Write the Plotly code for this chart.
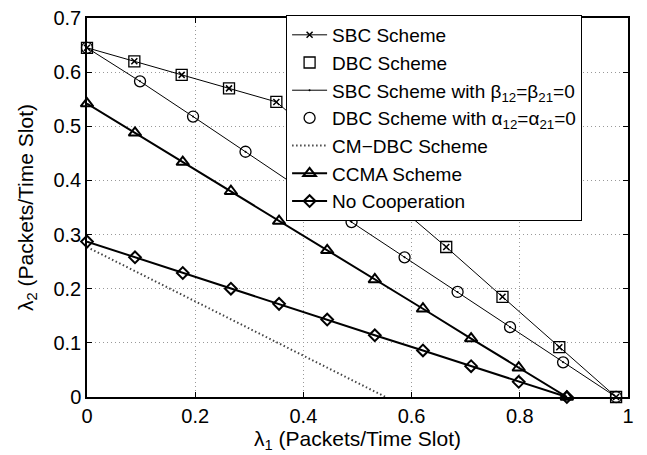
import plotly.graph_objects as go

# ---- data ----
x_sbc = [0, 0.0875, 0.175, 0.2625, 0.35, 0.455, 0.559, 0.664, 0.768, 0.873, 0.978]
y_sbc = [0.645, 0.620, 0.595, 0.570, 0.545, 0.455, 0.366, 0.277, 0.185, 0.092, 0.0]

x_zero = [0, 0.098, 0.196, 0.293, 0.391, 0.489, 0.587, 0.685, 0.782, 0.880, 0.978]
y_zero = [0.645, 0.583, 0.518, 0.453, 0.387, 0.323, 0.258, 0.194, 0.129, 0.064, 0.0]

x_cm = [0, 0.552]
y_cm = [0.277, 0.0]

x_coop = [0, 0.0887, 0.177, 0.266, 0.355, 0.444, 0.532, 0.621, 0.710, 0.798, 0.887]
y_ccma = [0.542, 0.488, 0.434, 0.380, 0.325, 0.271, 0.217, 0.163, 0.108, 0.054, 0.0]
y_nocoop = [0.287, 0.258, 0.229, 0.200, 0.172, 0.143, 0.114, 0.086, 0.057, 0.028, 0.0]

x_ticks = [0, 0.2, 0.4, 0.6, 0.8, 1]
x_labels = ["0", "0.2", "0.4", "0.6", "0.8", "1"]
y_ticks = [0, 0.1, 0.2, 0.3, 0.4, 0.5, 0.6, 0.7]
y_labels = ["0", "0.1", "0.2", "0.3", "0.4", "0.5", "0.6", "0.7"]

names = [
    "SBC Scheme",
    "DBC Scheme",
    "SBC Scheme with β<sub>12</sub>=β<sub>21</sub>=0",
    "DBC Scheme with α<sub>12</sub>=α<sub>21</sub>=0",
    "CM−DBC Scheme",
    "CCMA Scheme",
    "No Cooperation",
]

FONT = "Liberation Sans, Arial, sans-serif"
fig = go.Figure()

fig.add_trace(go.Scatter(x=x_sbc, y=y_sbc, name=names[0], mode="lines+markers",
                         line=dict(color="black", width=1),
                         marker=dict(symbol="x-thin", size=6, line=dict(color="black", width=1.5)),
                         cliponaxis=False))
fig.add_trace(go.Scatter(x=x_sbc, y=y_sbc, name=names[1], mode="markers",
                         marker=dict(symbol="square-open", size=11, color="black", line=dict(width=1.3)),
                         cliponaxis=False))
fig.add_trace(go.Scatter(x=x_zero, y=y_zero, name=names[2], mode="lines+markers",
                         line=dict(color="black", width=1),
                         marker=dict(symbol="circle", size=2, color="black"),
                         cliponaxis=False))
fig.add_trace(go.Scatter(x=x_zero, y=y_zero, name=names[3], mode="markers",
                         marker=dict(symbol="circle-open", size=11, color="black", line=dict(width=1.3)),
                         cliponaxis=False))
fig.add_trace(go.Scatter(x=x_cm, y=y_cm, name=names[4], mode="lines",
                         line=dict(color="#444", width=2, dash="1.5px,2.5px"),
                         cliponaxis=False))
fig.add_trace(go.Scatter(x=x_coop, y=y_ccma, name=names[5], mode="lines+markers",
                         line=dict(color="black", width=2),
                         marker=dict(symbol="triangle-up-open", size=11, color="black", line=dict(width=2)),
                         cliponaxis=False))
fig.add_trace(go.Scatter(x=x_coop, y=y_nocoop, name=names[6], mode="lines+markers",
                         line=dict(color="black", width=2),
                         marker=dict(symbol="diamond-open", size=9, color="black", line=dict(width=2)),
                         cliponaxis=False))

axis_common = dict(
    showline=True, linecolor="black", linewidth=1.5, mirror="ticks",
    ticks="inside", ticklen=5, tickcolor="black", tickwidth=1,
    showgrid=True, gridcolor="#999", griddash="1px,3px", gridwidth=1,
    zeroline=False, automargin=False, ticklabeloverflow="allow",
    tickfont=dict(family=FONT, size=20, color="black"),
)

fig.update_xaxes(range=[0, 1], tickvals=x_ticks, ticktext=x_labels,
                 title=dict(text="λ<sub>1</sub> (Packets/Time Slot)", standoff=0,
                            font=dict(family=FONT, size=21, color="black")),
                 **axis_common)
fig.update_yaxes(range=[0, 0.7], tickvals=y_ticks, ticktext=y_labels,
                 title=dict(text="λ<sub>2</sub> (Packets/Time Slot)", standoff=14,
                            font=dict(family=FONT, size=21, color="black")),
                 **axis_common)

fig.update_layout(
    width=647, height=455,
    margin=dict(l=79, r=27, t=7, b=66),
    plot_bgcolor="white", paper_bgcolor="white",
    font=dict(family=FONT, size=20, color="black"),
    legend=dict(x=0.368, y=1.008, xanchor="left", yanchor="top",
                bgcolor="white", bordercolor="black", borderwidth=1,
                font=dict(family=FONT, size=19, color="black"),
                tracegroupgap=0, itemwidth=35),
    showlegend=True,
)

fig.write_html("out.html")
